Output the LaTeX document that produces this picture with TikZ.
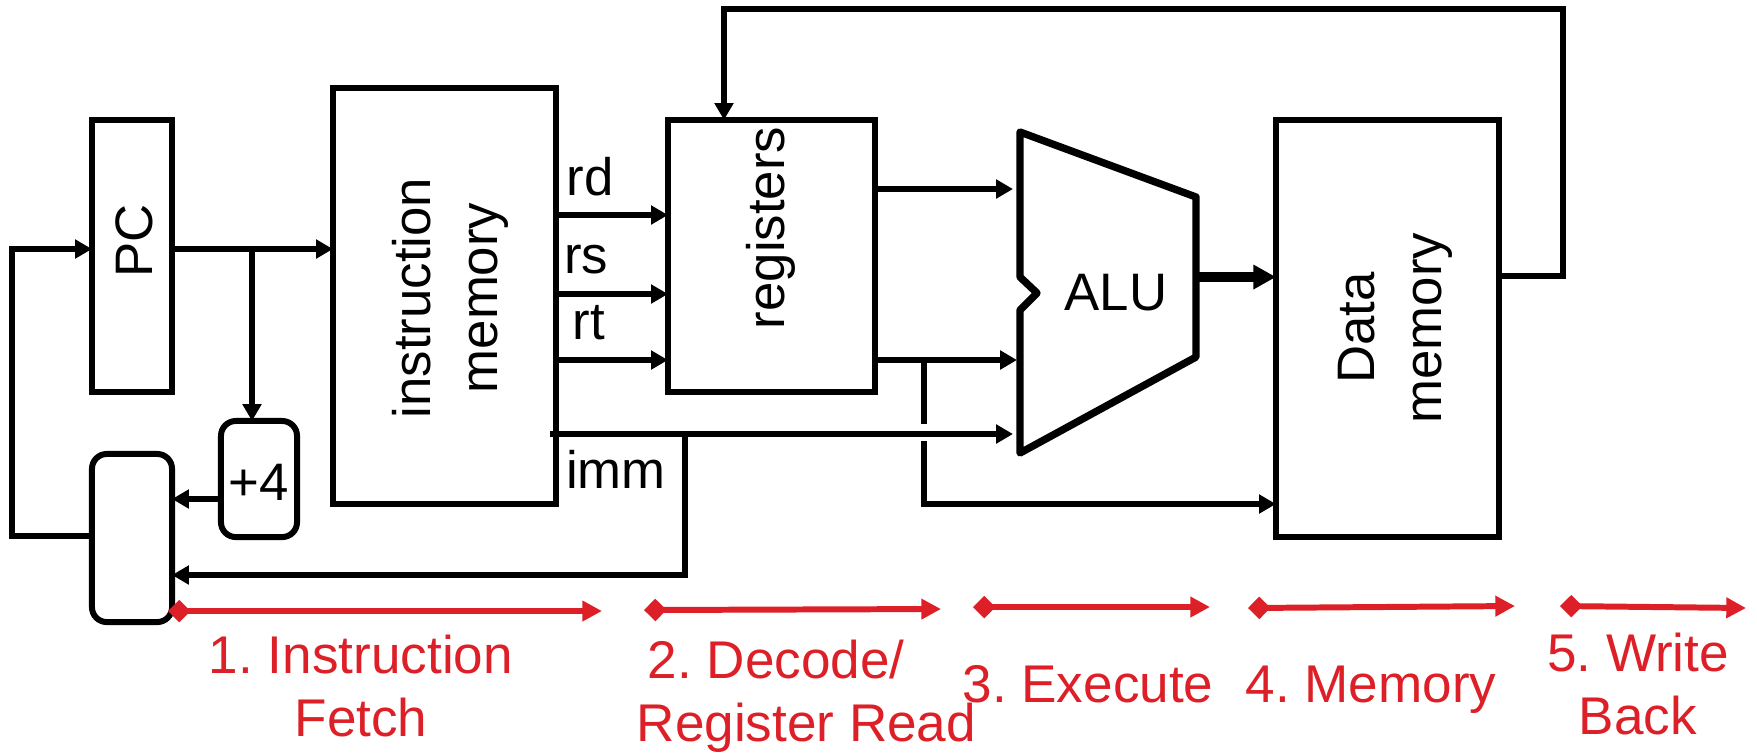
\documentclass[tikz,border=0pt]{standalone}
\usepackage{fontspec}
\setmainfont{Liberation Sans}
\usetikzlibrary{arrows.meta,positioning,calc}
\definecolor{stage}{RGB}{221,32,39}
\frenchspacing
\tikzset{
 box/.style={draw,line width=1.7pt,inner sep=0pt,outer sep=0pt,minimum width=#1},
 tall/.style={minimum height=#1},
 soft/.style={rounded corners=4.2pt},
 wire/.style={line width=1.6pt,-{Triangle[length=4.8pt,width=5.2pt]}},
 plain/.style={line width=1.6pt},
 stagearrow/.style={stage,line width=1.7pt,{Diamond[length=6.4pt,width=6.4pt]}-{Triangle[length=5.6pt,width=5.6pt]}},
 lbl/.style={font=\fontsize{15}{19}\selectfont,inner sep=0pt},
 stagelbl/.style={stage,font=\fontsize{15.1}{17.9}\selectfont,inner sep=0pt,align=center},
}
\begin{document}
\begin{tikzpicture}[x=0.01cm,y=-0.01cm]
 \useasboundingbox (0,0) rectangle (1757,753);
 % boxes
 \node[box=2.23cm,tall=4.16cm] (imem) at (444.5,296) {};
 \node[box=0.8cm,tall=2.72cm] (pc) at (132,256) {};
 \node[box=2.07cm,tall=2.72cm] (regs) at (771.5,256) {};
 \node[box=2.23cm,tall=4.17cm] (dmem) at (1387.5,328.5) {};
 \node[box=0.76cm,tall=1.16cm,soft] (plusfour) at (259,479) {};
 \node[box=0.8cm,tall=1.68cm,soft] (adder) at (132,538) {};
 % box texts
 \node[lbl,rotate=90] at (134,241) {PC};
 \node[lbl,rotate=90,align=center] at (450,298) {instruction\\memory};
 \node[lbl,rotate=90] at (771,228) {registers};
 \node[lbl,rotate=90,align=center] at (1395,328) {Data\\memory};
 \node[lbl] at (259,482) {+4};
 % alu outline
 \coordinate (aluTL) at (1020,132);
 \coordinate (aluTR) at (1196,197);
 \coordinate (aluBR) at (1196,357);
 \coordinate (aluBL) at (1020,453);
 \draw[line width=2.1pt,line join=round] (aluTL) -- (aluTR) -- (aluBR) -- (aluBL)
   -- (1020,310) -- (1037,293) -- (1020,277) -- cycle;
 \node[lbl] (alu) at (1116,293) {ALU};
 % instruction fields
 \foreach \nm/\y in {rd/215,rs/294,rt/360}{
  \coordinate (\nm) at (0,\y);
  \draw[wire] (imem.east |- \nm) -- (regs.west |- \nm);
 }
 \node[lbl] (rdlbl) at (590,177) {rd};
 \node[lbl] (rslbl) at (586,260) {rs};
 \node[lbl] (rtlbl) at (589,323) {rt};
 \node[lbl] (immlbl) at (616,469) {imm};
 % fetch loop
 \coordinate (pcline) at (0,249);
 \coordinate (pctap) at (252,249);
 \coordinate (back) at (12,249);
 \coordinate (backlow) at (12,536);
 \draw[wire] (pc.east |- pcline) -- (imem.west |- pcline);
 \draw[wire] (pctap) -- (plusfour.north -| pctap);
 \draw[wire] (plusfour.west |- 0,499) -- (adder.east |- 0,499);
 \draw[wire] (adder.west |- backlow) -- (backlow) -- (back) -- (pc.west |- back);
 % imm path
 \coordinate (immstart) at (550,434);
 \coordinate (immtap) at (685,434);
 \coordinate (immlow) at (685,575);
 \draw[wire] (immstart) -- (1013,434);
 \draw[wire] (immtap) -- (immlow) -- (adder.east |- immlow);
 % register outputs
 \coordinate (regA) at (0,189);
 \coordinate (regB) at (0,360);
 \coordinate (regtap) at (924,360);
 \coordinate (gaptop) at (924,424);
 \coordinate (gapend) at (924,441);
 \coordinate (storelow) at (924,504);
 \draw[wire] (regs.east |- regA) -- (1013,189);
 \draw[wire] (regs.east |- regB) -- (1017,360);
 \draw[plain] (regtap) -- (gaptop);
 \draw[wire] (gapend) -- (storelow) -- (dmem.west |- storelow);
 % alu result
 \coordinate (aluout) at (aluTR |- 0,277);
 \draw[line width=2.6pt,-{Triangle[length=6.4pt,width=6.6pt]}] (aluout) -- (dmem.west |- aluout);
 % write back
 \coordinate (wbright) at (1563,276);
 \coordinate (wbtop) at (1563,9);
 \coordinate (wbleft) at (724,9);
 \draw[wire] (dmem.east |- wbright) -- (wbright) -- (wbtop) -- (wbleft) -- (regs.north -| wbleft);
 % stages
 \foreach \i/\xa/\ya/\xb/\yb in {1/168/611/602/611,2/644/610/941/609,3/973/607/1210/607,4/1248/608/1515/606,5/1560/606/1746/608}{
  \coordinate (s\i a) at (\xa,\ya);
  \coordinate (s\i b) at (\xb,\yb);
  \draw[stagearrow] (s\i a) -- (s\i b);
 }
 \node[stagelbl] (fetch) at (361,686) {1. Instruction\\Fetch};
 \node[stagelbl,align=left,anchor=west] (decode) at (636,696) {\hspace*{0.11cm}2. Decode/\\Register Read};
 \node[stagelbl] (exec) at (1088,684) {3. Execute};
 \node[stagelbl] (mem) at (1371,690) {4. Memory};
 \node[stagelbl] (wb) at (1638,684) {5. Write\\Back};
\end{tikzpicture}
\end{document}
